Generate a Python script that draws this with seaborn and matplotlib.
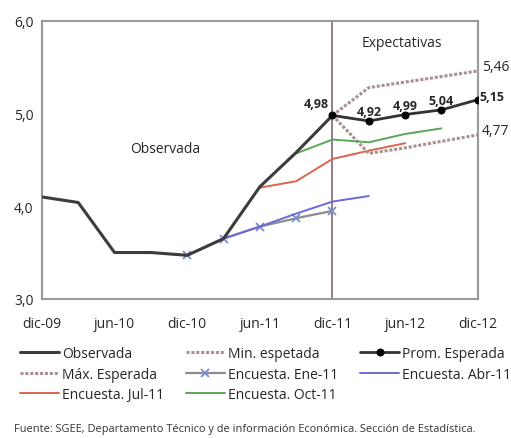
import matplotlib
matplotlib.use("Agg")
import matplotlib.pyplot as plt
import seaborn as sns
import pandas as pd

# quarterly periods, dic-09 ... dic-12
periodos = ["dic-09", "mar-10", "jun-10", "sep-10", "dic-10", "mar-11", "jun-11",
            "sep-11", "dic-11", "mar-12", "jun-12", "sep-12", "dic-12"]
tick_labels = ["dic-09", "jun-10", "dic-10", "jun-11", "dic-11", "jun-12", "dic-12"]

observada = [4.10, 4.04, 3.50, 3.50, 3.47, 3.65, 4.21, 4.58, 4.98]
prom_esperada = [4.98, 4.92, 4.99, 5.04, 5.15]
max_esperada = [4.98, 5.28, 5.34, 5.40, 5.46]
min_esperada = [4.98, 4.57, 4.63, 4.70, 4.77]
enc_ene11 = [3.47, 3.65, 3.78, 3.87, 3.95]
enc_abr11 = [3.65, 3.78, 3.92, 4.05, 4.11]
enc_jul11 = [4.20, 4.27, 4.51, 4.60, 4.68]
enc_oct11 = [4.57, 4.72, 4.69, 4.78, 4.84]

prom_labels = ["4,98", "4,92", "4,99", "5,04", "5,15"]

sns.set_style("white")
plt.rcParams['font.family'] = ['Open Sans', 'DejaVu Sans']

fig = plt.figure(figsize=(5.11, 4.39), dpi=100)
ax = fig.add_axes([0.082, 0.317, 0.853, 0.633])

def idx(start, n):
    return list(range(start, start + n))

ax.axvline(8, color="#8c6f7f", lw=1.3, zorder=1)

sns.lineplot(x=idx(0, len(observada)), y=observada, ax=ax, color="#3c3c3c", lw=2.2,
             label="Observada", zorder=3)
sns.lineplot(x=idx(8, 5), y=max_esperada, ax=ax, color="#a89090", lw=2.2,
             linestyle=(0, (1, 0.6)), label="Máx. Esperada", zorder=2)
sns.lineplot(x=idx(6, 5), y=enc_jul11, ax=ax, color="#d9654f", lw=1.4,
             label="Encuesta. Jul-11", zorder=2)
sns.lineplot(x=idx(8, 5), y=min_esperada, ax=ax, color="#a89090", lw=2.2,
             linestyle=(0, (1, 0.6)), label="Min. espetada", zorder=2)
sns.lineplot(x=idx(4, 5), y=enc_ene11, ax=ax, color="#8c8c8c", lw=1.6, marker="x",
             markersize=6, markeredgecolor="#7b8ccc", markeredgewidth=1.3,
             label="Encuesta. Ene-11", zorder=2)
sns.lineplot(x=idx(7, 5), y=enc_oct11, ax=ax, color="#5aa65a", lw=1.4,
             label="Encuesta. Oct-11", zorder=2)
sns.lineplot(x=idx(8, 5), y=prom_esperada, ax=ax, color="#333333", lw=2.0, marker="o",
             markersize=5, markerfacecolor="black", markeredgecolor="black",
             label="Prom. Esperada", zorder=4)
sns.lineplot(x=idx(5, 5), y=enc_abr11, ax=ax, color="#6a6ad8", lw=1.4,
             label="Encuesta. Abr-11", zorder=2)

# value labels for Prom. Esperada
offs = [(-0.45, 0.13), (0.0, 0.1), (0.0, 0.1), (0.0, 0.1), (0.4, 0.03)]
for i, (v, t) in enumerate(zip(prom_esperada, prom_labels)):
    ax.text(8 + i + offs[i][0], v + offs[i][1], t, ha="center", va="center",
            fontsize=9, fontweight="bold", clip_on=False)
ax.text(12.12, max_esperada[-1] + 0.05, "5,46", fontsize=10, ha="left", va="center",
        clip_on=False)
ax.text(12.12, min_esperada[-1] + 0.05, "4,77", fontsize=10, ha="left", va="center",
        clip_on=False)

ax.text(3.4, 4.62, "Observada", fontsize=10, ha="center", va="center")
ax.text(9.9, 5.77, "Expectativas", fontsize=10, ha="center", va="center")

ax.set_xlim(0, 12)
ax.set_ylim(3, 6)
ax.set_xticks(range(0, 13, 2))
ax.set_xticklabels(tick_labels, fontsize=10)
ax.set_yticks([3, 4, 5, 6])
ax.set_yticklabels(["3,0", "4,0", "5,0", "6,0"], fontsize=10)
ax.tick_params(axis="x", length=3, color="#bbbbbb", pad=9)
ax.tick_params(axis="y", length=2, color="#bbbbbb", pad=4)
for s in ax.spines.values():
    s.set_color("#999999")
    s.set_linewidth(1.5)
ax.set_xlabel("")
ax.set_ylabel("")

ax.legend(loc="upper left", bbox_to_anchor=(-0.063, -0.15), ncol=3, frameon=False,
          fontsize=10, handlelength=2.8, handletextpad=0.2, columnspacing=1.6,
          labelspacing=0.4, borderaxespad=0)

fig.text(0.027, 0.015, "Fuente: SGEE, Departamento Técnico y de información Económica. "
         "Sección de Estadística.", fontsize=7.9, color="#333333")

fig.savefig("out.png", dpi=100)
